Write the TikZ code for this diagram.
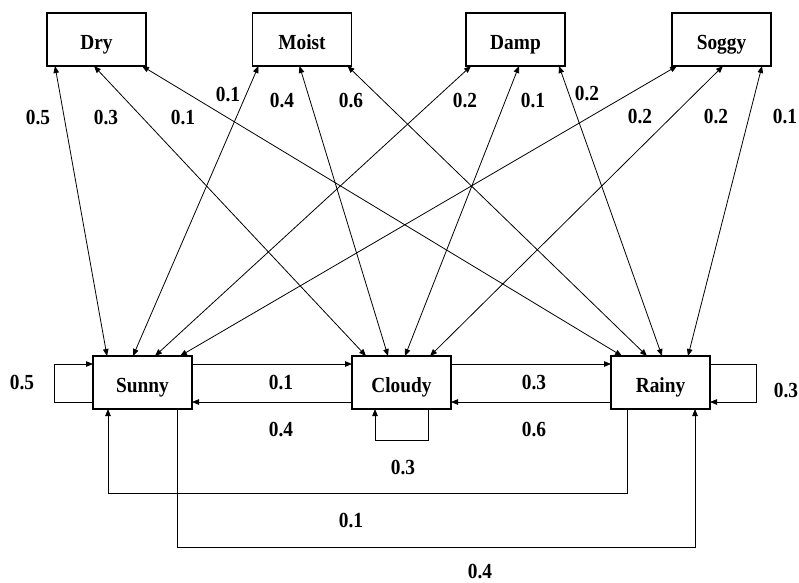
\documentclass[tikz,border=0pt]{standalone}
\usepackage{fontspec}
\setmainfont{Liberation Serif}[FakeStretch=0.9]
\usetikzlibrary{arrows.meta}
\begin{document}
\begin{tikzpicture}[x=1pt,y=-1pt,
  state/.style={draw,line width=1.2pt,minimum width=99pt,minimum height=53pt,
    inner sep=0pt,outer sep=0pt,text height=20pt,text depth=0pt,
    font=\fontsize{21.5}{25}\selectfont\bfseries},
  prob/.style={inner sep=0pt,font=\fontsize{21.5}{25}\selectfont\bfseries},
  link/.style={line width=0.8pt,{Triangle[length=7pt,width=5.5pt]}-{Triangle[length=7pt,width=5.5pt]}},
  trans/.style={line width=0.8pt,-{Triangle[length=7pt,width=5.5pt]}}]
\useasboundingbox (0,0) rectangle (799,582);

% observations
\node[state] (dry)   at (96.5,39.5)  {Dry};
\node[state] (moist) at (302,39.5)   {Moist};
\node[state] (damp)  at (515.5,39.5) {Damp};
\node[state] (soggy) at (721.5,39.5) {Soggy};

% hidden states
\node[state] (sunny)  at (142.5,382.5) {Sunny};
\node[state] (cloudy) at (401.5,382.5) {Cloudy};
\node[state] (rainy)  at (660.5,382.5) {Rainy};

% emission links
\draw[link] ([xshift=8pt]dry.south west)   -- ([xshift=14pt]sunny.north west);
\draw[link] ([xshift=47pt]dry.south west)  -- ([xshift=14pt]cloudy.north west);
\draw[link] ([xshift=95pt]dry.south west)  -- ([xshift=11pt]rainy.north west);
\draw[link] ([xshift=6pt]moist.south west) -- ([xshift=40pt]sunny.north west);
\draw[link] ([xshift=47pt]moist.south west)-- ([xshift=36pt]cloudy.north west);
\draw[link] ([xshift=95pt]moist.south west)-- ([xshift=36pt]rainy.north west);
\draw[link] ([xshift=5pt]damp.south west)  -- ([xshift=62pt]sunny.north west);
\draw[link] ([xshift=53pt]damp.south west) -- ([xshift=53pt]cloudy.north west);
\draw[link] ([xshift=93pt]damp.south west) -- ([xshift=51pt]rainy.north west);
\draw[link] ([xshift=5pt]soggy.south west) -- ([xshift=87pt]sunny.north west);
\draw[link] ([xshift=51pt]soggy.south west)-- ([xshift=78pt]cloudy.north west);
\draw[link] ([xshift=90pt]soggy.south west)-- ([xshift=77pt]rainy.north west);

% emission probabilities
\node[prob] (e1)  at (38,117)  {0.5};
\node[prob] (e2)  at (106,117) {0.3};
\node[prob] (e3)  at (183,117) {0.1};
\node[prob] (e4)  at (228,94)  {0.1};
\node[prob] (e5)  at (282,100) {0.4};
\node[prob] (e6)  at (351,100) {0.6};
\node[prob] (e7)  at (465,100) {0.2};
\node[prob] (e8)  at (533,100) {0.1};
\node[prob] (e9)  at (587,93)  {0.2};
\node[prob] (e10) at (640,116) {0.2};
\node[prob] (e11) at (716,116) {0.2};
\node[prob] (e12) at (785,116) {0.1};

% transitions
\draw[trans] ([yshift=7pt]sunny.south west) -- ++(-39,0) |- ([yshift=-8pt]sunny.north west);
\draw[trans] ([yshift=-8pt]sunny.north east) -- ([yshift=-8pt]cloudy.north west);
\draw[trans] ([yshift=7pt]cloudy.south west) -- ([yshift=7pt]sunny.south east);
\draw[trans] ([xshift=76pt]cloudy.south west) -- ++(0,31) -| ([xshift=23pt]cloudy.south west);
\draw[trans] ([yshift=-8pt]cloudy.north east) -- ([yshift=-8pt]rainy.north west);
\draw[trans] ([yshift=7pt]rainy.south west) -- ([yshift=7pt]cloudy.south east);
\draw[trans] ([yshift=-8pt]rainy.north east) -- ++(46,0) |- ([yshift=7pt]rainy.south east);
\draw[trans] ([xshift=16pt]rainy.south west) -- ++(0,84) -| ([xshift=15pt]sunny.south west);
\draw[trans] ([xshift=84pt]sunny.south west) -- ++(0,138) -| ([xshift=84pt]rainy.south west);

% transition probabilities
\node[prob] (t1) at (22,382)  {0.5};
\node[prob] (t2) at (281,382) {0.1};
\node[prob] (t3) at (281,429) {0.4};
\node[prob] (t4) at (403,467) {0.3};
\node[prob] (t5) at (534,382) {0.3};
\node[prob] (t6) at (534,429) {0.6};
\node[prob] (t7) at (786,390) {0.3};
\node[prob] (t8) at (351,520) {0.1};
\node[prob] (t9) at (480,571) {0.4};
\end{tikzpicture}
\end{document}
